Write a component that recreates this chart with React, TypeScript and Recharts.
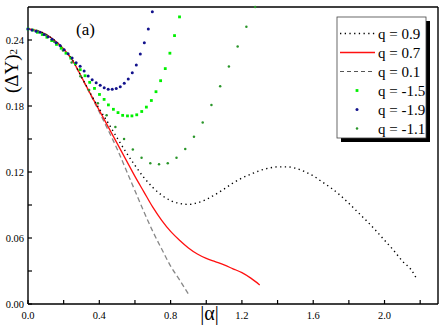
import React from "react";
import { ComposedChart, Line, Scatter, XAxis, YAxis, Customized } from "recharts";

const FONT = '"Liberation Serif", "Times New Roman", serif';

// x axis ticks (|alpha|) and y axis ticks ((dY)^2)
const xTicks = [0, 0.2, 0.4, 0.6, 0.8, 1.0, 1.2, 1.4, 1.6, 1.8, 2.0, 2.2];
const yTicks = [0, 0.03, 0.06, 0.09, 0.12, 0.15, 0.18, 0.21, 0.24];

// q = 0.9 (dotted)
const alphaQ09 = [0, 0.05, 0.1, 0.15, 0.2, 0.25, 0.3, 0.35, 0.4, 0.45, 0.5, 0.55, 0.6, 0.65, 0.7, 0.75, 0.8, 0.85, 0.9, 0.95, 1.0, 1.05, 1.1, 1.15, 1.2, 1.25, 1.3, 1.35, 1.4, 1.45, 1.5, 1.55, 1.6, 1.65, 1.7, 1.75, 1.8, 1.85, 1.9, 1.95, 2.0, 2.05, 2.1, 2.15, 2.18];
const valQ09 = [0.25, 0.2485, 0.2452, 0.2395, 0.2318, 0.2215, 0.2065, 0.1915, 0.1775, 0.1645, 0.151, 0.138, 0.126, 0.115, 0.106, 0.099, 0.094, 0.0915, 0.0905, 0.092, 0.095, 0.0995, 0.1045, 0.11, 0.1145, 0.118, 0.1213, 0.1235, 0.1247, 0.1247, 0.1235, 0.1205, 0.1165, 0.111, 0.1055, 0.099, 0.0915, 0.0835, 0.0755, 0.067, 0.058, 0.049, 0.039, 0.031, 0.023];

// q = 0.7 (solid red)
const alphaQ07 = [0, 0.05, 0.1, 0.15, 0.2, 0.25, 0.3, 0.35, 0.4, 0.45, 0.5, 0.55, 0.6, 0.65, 0.7, 0.75, 0.8, 0.85, 0.9, 0.95, 1.0, 1.05, 1.1, 1.15, 1.2, 1.25, 1.3];
const valQ07 = [0.25, 0.2485, 0.2452, 0.2395, 0.2318, 0.2215, 0.2065, 0.191, 0.176, 0.161, 0.146, 0.131, 0.116, 0.102, 0.088, 0.076, 0.066, 0.058, 0.051, 0.0455, 0.0415, 0.0385, 0.0355, 0.032, 0.0285, 0.0235, 0.0173];

// q = 0.1 (dashed grey)
const alphaQ01 = [0, 0.05, 0.1, 0.15, 0.2, 0.25, 0.3, 0.35, 0.4, 0.45, 0.5, 0.55, 0.6, 0.65, 0.7, 0.75, 0.8, 0.85, 0.9];
const valQ01 = [0.25, 0.2485, 0.2452, 0.2395, 0.2318, 0.2213, 0.206, 0.1905, 0.1745, 0.158, 0.141, 0.122, 0.103, 0.084, 0.066, 0.05, 0.0345, 0.022, 0.009];

// q = -1.5 (bright green squares)
const alphaQm15 = [0, 0.027, 0.053, 0.08, 0.106, 0.133, 0.16, 0.186, 0.213, 0.24, 0.266, 0.293, 0.32, 0.346, 0.373, 0.401, 0.427, 0.451, 0.479, 0.505, 0.531, 0.558, 0.583, 0.61, 0.638, 0.664, 0.692, 0.718, 0.744, 0.77, 0.796, 0.822, 0.85];
const valQm15 = [0.25, 0.249, 0.247, 0.245, 0.2425, 0.2395, 0.236, 0.2325, 0.228, 0.2235, 0.2185, 0.213, 0.2075, 0.2015, 0.196, 0.1905, 0.186, 0.181, 0.177, 0.174, 0.1715, 0.171, 0.171, 0.172, 0.175, 0.179, 0.185, 0.193, 0.203, 0.214, 0.228, 0.244, 0.261];

// q = -1.9 (navy dots)
const alphaQm19 = [0, 0.0225, 0.045, 0.0675, 0.09, 0.1125, 0.135, 0.1575, 0.18, 0.2025, 0.225, 0.2475, 0.27, 0.2925, 0.315, 0.3375, 0.36, 0.3825, 0.405, 0.4275, 0.45, 0.4725, 0.495, 0.5175, 0.54, 0.5625, 0.585, 0.6075, 0.63, 0.6525, 0.675, 0.6975];
const valQm19 = [0.25, 0.249, 0.248, 0.247, 0.245, 0.243, 0.2406, 0.2376, 0.2349, 0.2312, 0.2276, 0.2236, 0.2194, 0.2161, 0.2118, 0.2073, 0.2039, 0.2012, 0.1988, 0.1967, 0.1952, 0.1952, 0.1958, 0.1976, 0.2006, 0.2045, 0.2103, 0.2173, 0.2273, 0.2376, 0.25, 0.2657];

// q = -1.1 (dark green dots)
const alphaQm11 = [0, 0.049, 0.098, 0.147, 0.196, 0.245, 0.294, 0.343, 0.392, 0.441, 0.49, 0.539, 0.588, 0.637, 0.686, 0.735, 0.784, 0.833, 0.882, 0.931, 0.98, 1.029, 1.078, 1.127, 1.176, 1.225, 1.274];
const valQm11 = [0.25, 0.2485, 0.2445, 0.2385, 0.2305, 0.2195, 0.207, 0.1945, 0.1825, 0.1715, 0.161, 0.15, 0.1405, 0.133, 0.128, 0.127, 0.128, 0.133, 0.141, 0.152, 0.165, 0.181, 0.198, 0.216, 0.234, 0.252, 0.27];

const zip = (a: number[], v: number[]) => a.map((x, i) => ({ a: x, v: v[i] }));

const NAVY = "#12128c";
const LIME = "#00f000";
const DKGREEN = "#2a962a";
const AXIS = { stroke: "#000", strokeWidth: 1.4 };

const isMajor = (v: number, step: number) => Math.abs(v / step - Math.round(v / step)) < 1e-6;

const BottomTick = (props: any) => {
	const { x, y, payload } = props;
	const v = payload.value;
	return (
		<g>
			<line x1={x} x2={x} y1={y} y2={y - 4} stroke="#000" strokeWidth={1.2} />
			{isMajor(v, 0.4) && (
				<text x={x} y={y + 15} textAnchor="middle" fontFamily={FONT} fontSize={10.5} fill="#000">
					{v.toFixed(1)}
				</text>
			)}
		</g>
	);
};

const TopTick = (props: any) => {
	const { x, y } = props;
	return <line x1={x} x2={x} y1={y} y2={y + 4} stroke="#000" strokeWidth={1.2} />;
};

const LeftTick = (props: any) => {
	const { x, y, payload } = props;
	const v = payload.value;
	return (
		<g>
			<line x1={x} x2={x + 4} y1={y} y2={y} stroke="#000" strokeWidth={1.2} />
			{isMajor(v, 0.06) && (
				<text x={x - 4} y={y + 3.5} textAnchor="end" fontFamily={FONT} fontSize={10.5} fill="#000">
					{v.toFixed(2)}
				</text>
			)}
		</g>
	);
};

const RightTick = (props: any) => {
	const { x, y } = props;
	return <line x1={x} x2={x - 4} y1={y} y2={y} stroke="#000" strokeWidth={1.2} />;
};

const Square = (props: any) => <rect x={props.cx - 1.4} y={props.cy - 1.4} width={2.8} height={2.8} fill={LIME} />;
const NavyDot = (props: any) => <circle cx={props.cx} cy={props.cy} r={1.5} fill={NAVY} />;
const GreenDot = (props: any) => <circle cx={props.cx} cy={props.cy} r={1.25} fill={DKGREEN} />;

const legendRows = [
	{ label: "q = 0.9", kind: "dot" },
	{ label: "q = 0.7", kind: "solid" },
	{ label: "q = 0.1", kind: "dash" },
	{ label: "q = -1.5", kind: "square" },
	{ label: "q = -1.9", kind: "navy" },
	{ label: "q = -1.1", kind: "green" },
];

const Annotations = () => {
	const lx = 337;
	const ly = 17;
	const lw = 89;
	const lh = 121;
	return (
		<g fontFamily={FONT} fill="#000">
			<text x={76} y={35} fontSize={17}>
				(a)
			</text>
			<text x={209.5} y={320} fontSize={20} textAnchor="middle">
				|α|
			</text>
			<text
				x={0}
				y={0}
				fontSize={19}
				textAnchor="middle"
				style={{ transform: "translate(18px, 71px) rotate(-90deg)", transformOrigin: "0px 0px" }}
			>
				(ΔY)
				<tspan fontSize={11} dy={-1}>
					2
				</tspan>
			</text>
			<rect x={lx + 4} y={ly + 4} width={lw} height={lh} fill="#000" />
			<rect x={lx} y={ly} width={lw} height={lh} fill="#fff" stroke="#444" strokeWidth={0.8} />
			{legendRows.map((r, i) => {
				const cy = ly + 16.5 + i * 19;
				let sample: React.ReactNode = null;
				if (r.kind === "dot")
					sample = <line x1={340} x2={375} y1={cy} y2={cy} stroke="#000" strokeWidth={1.3} strokeDasharray="1.3 3.4" />;
				else if (r.kind === "solid") sample = <line x1={340} x2={375} y1={cy} y2={cy} stroke="#ff1010" strokeWidth={1.3} />;
				else if (r.kind === "dash")
					sample = <line x1={340} x2={375} y1={cy} y2={cy} stroke="#555" strokeWidth={1} strokeDasharray="4 3" />;
				else if (r.kind === "square") sample = <Square cx={357} cy={cy} />;
				else if (r.kind === "navy") sample = <NavyDot cx={357} cy={cy} />;
				else sample = <GreenDot cx={357} cy={cy} />;
				return (
					<g key={r.label}>
						{sample}
						<text x={378} y={cy + 5} fontSize={15}>
							{r.label}
						</text>
					</g>
				);
			})}
		</g>
	);
};

export default function App() {
	return (
		<div style={{ position: "absolute", left: 0, top: 0 }}>
			<ComposedChart width={447} height={327} margin={{ top: 6, right: 8, bottom: 3, left: 4 }}>
				<XAxis
					xAxisId="b"
					type="number"
					dataKey="a"
					domain={[0, 2.3]}
					ticks={xTicks}
					interval={0}
					height={20}
					tickSize={0}
					tickMargin={0}
					tick={<BottomTick />}
					tickLine={false}
					axisLine={AXIS}
				/>
				<XAxis
					xAxisId="t"
					orientation="top"
					type="number"
					dataKey="a"
					domain={[0, 2.3]}
					ticks={xTicks}
					interval={0}
					height={1}
					tickSize={0}
					tickMargin={0}
					tick={<TopTick />}
					tickLine={false}
					axisLine={AXIS}
				/>
				<YAxis
					yAxisId="l"
					type="number"
					dataKey="v"
					domain={[0, 0.27]}
					ticks={yTicks}
					interval={0}
					width={24}
					tickSize={0}
					tickMargin={0}
					tick={<LeftTick />}
					tickLine={false}
					axisLine={AXIS}
				/>
				<YAxis
					yAxisId="r"
					orientation="right"
					type="number"
					dataKey="v"
					domain={[0, 0.27]}
					ticks={yTicks}
					interval={0}
					width={1}
					tickSize={0}
					tickMargin={0}
					tick={<RightTick />}
					tickLine={false}
					axisLine={AXIS}
				/>
				<Line
					xAxisId="b"
					yAxisId="l"
					data={zip(alphaQ01, valQ01)}
					dataKey="v"
					type="monotone"
					stroke="#888"
					strokeWidth={1.3}
					strokeDasharray="5 3"
					dot={false}
					isAnimationActive={false}
				/>
				<Line
					xAxisId="b"
					yAxisId="l"
					data={zip(alphaQ07, valQ07)}
					dataKey="v"
					type="monotone"
					stroke="#ff1010"
					strokeWidth={1.3}
					dot={false}
					isAnimationActive={false}
				/>
				<Line
					xAxisId="b"
					yAxisId="l"
					data={zip(alphaQ09, valQ09)}
					dataKey="v"
					type="monotone"
					stroke="#000"
					strokeWidth={1.4}
					strokeDasharray="1.3 3.4"
					dot={false}
					isAnimationActive={false}
				/>
				<Scatter xAxisId="b" yAxisId="l" data={zip(alphaQm11, valQm11)} dataKey="v" shape={GreenDot} isAnimationActive={false} />
				<Scatter xAxisId="b" yAxisId="l" data={zip(alphaQm15, valQm15)} dataKey="v" shape={Square} isAnimationActive={false} />
				<Scatter xAxisId="b" yAxisId="l" data={zip(alphaQm19, valQm19)} dataKey="v" shape={NavyDot} isAnimationActive={false} />
				<Customized component={Annotations} />
			</ComposedChart>
		</div>
	);
}
